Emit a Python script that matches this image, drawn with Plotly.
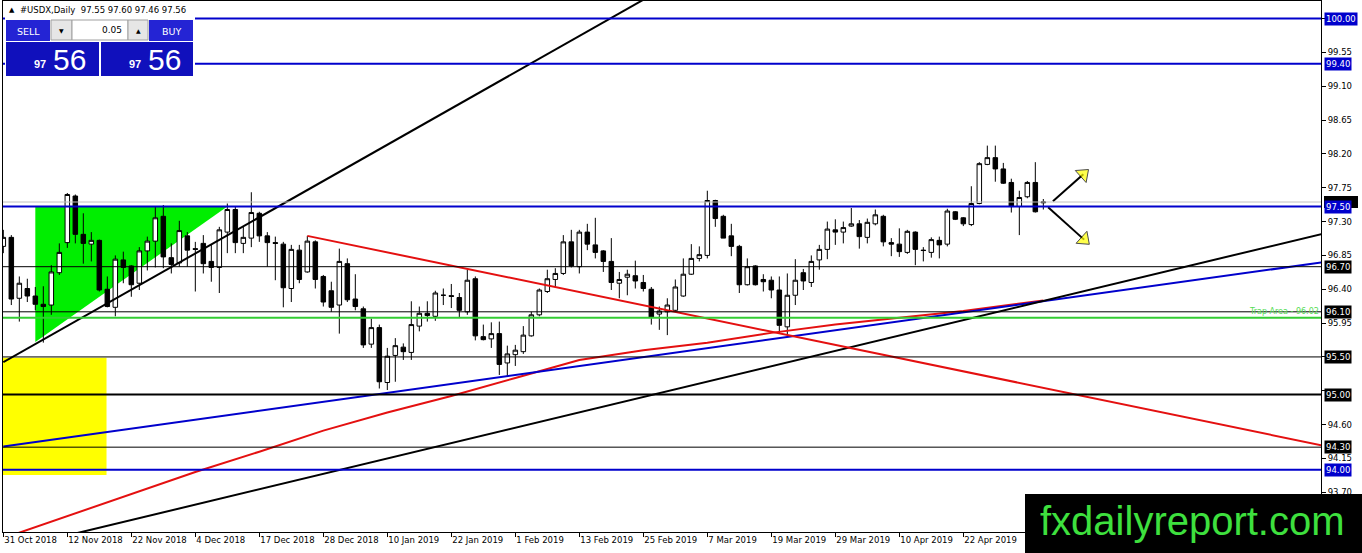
import plotly.graph_objects as go

# daily USDX candles, bar 0 = 31 Oct 2018 (one bar per trading day)
opens = [96.97, 97.09, 96.28, 96.41, 96.31, 96.20, 96.19, 96.62, 97.02, 97.64,
         97.13, 97.00, 97.05, 96.40, 96.16, 96.79, 96.71, 96.48, 96.91, 97.04,
         97.37, 96.82, 96.75, 97.11, 96.94, 97.01, 96.77, 96.69, 97.16, 97.46,
         97.01, 97.08, 97.41, 97.11, 97.02, 97.00, 96.41, 96.92, 96.63, 97.03,
         96.57, 96.38, 96.19, 96.74, 96.27, 96.14, 95.67, 95.89, 95.16, 95.52,
         95.63, 95.56, 95.91, 96.08, 96.04, 96.32, 96.315, 96.29, 96.10, 96.54,
         95.77, 95.74, 95.81, 95.42, 95.53, 95.57, 95.78, 96.06, 96.37, 96.53,
         96.61, 97.03, 96.70, 97.16, 96.99, 96.91, 96.77, 96.48, 96.56, 96.58,
         96.49, 96.40, 96.07, 96.10, 96.12, 96.31, 96.60, 96.81, 96.85, 97.58,
         97.37, 97.11, 96.97, 96.46, 96.71, 96.53, 96.52, 96.39, 95.90, 96.32,
         96.62, 96.49, 96.79, 96.93, 97.19, 97.16, 97.24, 97.27, 97.09, 97.27,
         97.37, 97.02, 97.00, 96.89, 97.16, 96.92, 96.89, 97.05, 97.00, 97.43,
         97.35, 97.26, 97.54, 98.06, 98.15, 98.00, 97.82, 97.50, 97.63, 97.82,
         97.55]
highs = [97.19, 97.12, 96.57, 96.54, 96.43, 96.44, 96.72, 97.01, 97.68, 97.66,
         97.41, 97.16, 97.06, 96.57, 96.85, 96.90, 96.72, 96.96, 97.10, 97.50,
         97.52, 97.01, 97.31, 97.16, 97.03, 97.12, 96.99, 97.23, 97.54, 97.50,
         97.23, 97.69, 97.43, 97.16, 97.10, 97.03, 96.99, 96.99, 97.11, 97.05,
         96.59, 96.50, 96.94, 96.81, 96.60, 96.17, 96.01, 95.93, 95.62, 95.75,
         95.68, 96.24, 96.17, 96.24, 96.38, 96.41, 96.47, 96.35, 96.66, 96.57,
         95.93, 95.96, 95.97, 95.65, 95.66, 95.91, 96.10, 96.41, 96.66, 96.68,
         97.12, 97.19, 97.19, 97.27, 97.35, 96.92, 97.08, 96.63, 96.66, 96.78,
         96.59, 96.43, 96.17, 96.28, 96.53, 96.81, 97.00, 96.97, 97.71, 97.59,
         97.39, 97.27, 96.99, 96.81, 96.72, 96.60, 96.57, 96.57, 96.61, 96.80,
         96.67, 96.85, 96.99, 97.30, 97.33, 97.30, 97.48, 97.32, 97.34, 97.46,
         97.39, 97.08, 97.21, 97.19, 97.17, 96.96, 97.09, 97.10, 97.47, 97.44,
         97.36, 97.77, 98.09, 98.31, 98.31, 98.08, 97.87, 97.71, 97.84, 98.09,
         97.60]
lows = [96.88, 96.19, 95.97, 96.23, 96.12, 95.69, 96.06, 96.59, 96.95, 97.01,
        96.74, 96.77, 96.37, 96.16, 96.04, 96.48, 96.30, 96.39, 96.65, 96.69,
        96.68, 96.61, 96.70, 96.70, 96.37, 96.61, 96.50, 96.35, 96.88, 96.88,
        96.88, 96.96, 97.03, 96.70, 96.52, 96.16, 96.23, 96.48, 96.62, 96.41,
        96.17, 96.10, 95.81, 96.23, 96.12, 95.62, 95.62, 95.08, 95.06, 95.17,
        95.46, 95.46, 95.84, 95.97, 95.98, 96.19, 96.15, 96.03, 96.06, 95.72,
        95.72, 95.62, 95.26, 95.24, 95.38, 95.54, 95.77, 96.04, 96.35, 96.43,
        96.59, 96.69, 96.61, 96.92, 96.81, 96.63, 96.39, 96.28, 96.32, 96.41,
        96.37, 95.93, 95.86, 95.79, 96.10, 96.30, 96.59, 96.77, 96.81, 97.23,
        97.08, 96.84, 96.35, 96.45, 96.45, 96.37, 96.28, 95.81, 95.80, 96.19,
        96.39, 96.43, 96.66, 96.80, 96.99, 97.01, 97.23, 96.94, 97.01, 97.25,
        96.97, 96.84, 96.83, 96.87, 96.72, 96.77, 96.82, 96.81, 96.97, 97.32,
        97.24, 97.24, 97.53, 98.05, 97.83, 97.80, 97.42, 97.12, 97.61, 97.42,
        97.46]
closes = [97.09, 96.27, 96.48, 96.31, 96.20, 96.17, 96.63, 96.89, 97.66, 97.13,
          97.01, 97.05, 96.39, 96.17, 96.80, 96.69, 96.46, 96.91, 97.04, 97.35,
          96.83, 96.73, 97.18, 96.92, 96.93, 96.74, 96.69, 97.19, 97.46, 97.02,
          97.09, 97.42, 97.11, 97.02, 97.01, 96.42, 96.93, 96.53, 97.04, 96.53,
          96.23, 96.16, 96.77, 96.26, 96.17, 95.66, 95.89, 95.17, 95.51, 95.65,
          95.57, 95.93, 96.08, 96.05, 96.35, 96.32, 96.305, 96.12, 96.52, 95.78,
          95.73, 95.81, 95.40, 95.54, 95.59, 95.79, 96.06, 96.39, 96.54, 96.61,
          97.03, 96.71, 97.16, 97.00, 96.89, 96.77, 96.49, 96.53, 96.60, 96.51,
          96.41, 96.03, 96.11, 96.19, 96.43, 96.60, 96.81, 96.86, 97.58, 97.34,
          97.08, 96.97, 96.46, 96.70, 96.46, 96.50, 96.39, 95.92, 96.32, 96.52,
          96.51, 96.77, 96.93, 97.20, 97.16, 97.22, 97.27, 97.10, 97.29, 97.39,
          97.03, 97.00, 96.90, 97.17, 96.93, 96.915, 97.06, 96.99, 97.44, 97.33,
          97.27, 97.54, 98.07, 98.15, 98.00, 97.81, 97.50, 97.62, 97.82, 97.43,
          97.56]
bars = list(range(len(opens)))

date_labels = ["31 Oct 2018", "12 Nov 2018", "22 Nov 2018", "4 Dec 2018",
               "17 Dec 2018", "28 Dec 2018", "10 Jan 2019", "22 Jan 2019",
               "1 Feb 2019", "13 Feb 2019", "25 Feb 2019", "7 Mar 2019",
               "19 Mar 2019", "29 Mar 2019", "10 Apr 2019", "22 Apr 2019"]
date_bars = [0, 8, 16, 24, 32, 40, 48, 56, 64, 72, 80, 88, 96, 104, 112, 120]

# scale ticks; the ones sitting under a price tag carry no text
price_ticks = [93.70, 94.15, 94.60, 95.05, 95.50, 95.95, 96.40, 96.85, 97.30,
               97.75, 98.20, 98.65, 99.10, 99.55, 100.00]
price_tick_text = ["93.70", "94.15", "94.60", "", "", "95.95", "96.40", "96.85",
                   "97.30", "97.75", "98.20", "98.65", "99.10", "99.55", ""]

# moving average read every 8 bars
ma_bars = [0, 8, 16, 24, 32, 40, 48, 56, 64, 72, 80, 88, 96, 104, 112, 120, 130]
ma_vals = [93.09, 93.38, 93.67, 93.97, 94.24, 94.52, 94.76, 94.98, 95.22, 95.46,
           95.59, 95.69, 95.82, 95.93, 96.02, 96.11, 96.25]

# trend lines (two anchor points each: bars, prices)
steep_bars, steep_prices = [0, 82], [95.43, 100.37]
lowtl_bars, lowtl_prices = [5, 165], [93.05, 97.14]
bluetl_bars, bluetl_prices = [0, 165], [94.31, 96.76]
redtl_bars, redtl_prices = [38, 165], [97.11, 94.32]

# zones
triangle_bars, triangle_prices = [4, 28, 4], [97.50, 97.50, 95.70]
yellow_bars, yellow_prices = [-0.5, 12.9], [93.93, 95.49]

# scenario arrows: start, head
arrow_up_bars, arrow_up_prices = [131.2, 135.0], [97.57, 97.93]
arrow_dn_bars, arrow_dn_prices = [130.6, 135.1], [97.49, 97.06]

# horizontal levels
blue_levels = [100.00, 99.40, 97.50, 94.00]
black_levels = [96.70, 96.10, 95.50, 94.30]
thick_level = 95.00
trap_level = 96.02
bid_price = 97.56

BLUE = "#0000cc"
RED = "#e41010"
GREEN = "#33cc33"
FONT = "DejaVu Sans"

W, H = 1362, 553
ML, MR, MT, MB = 3, 41, 1, 21
PW, PH = W - ML - MR, H - MT - MB
Y_RANGE = [93.172, 100.233]
PX_PER_PRICE = PH / (Y_RANGE[1] - Y_RANGE[0])


def px(x):  # pixel column -> paper
    return (x - ML) / PW


def py(y):  # pixel row -> paper
    return (H - MB - y) / PH


fig = go.Figure()

fig.add_trace(go.Candlestick(
    x=bars, open=opens, high=highs, low=lows, close=closes,
    increasing=dict(line=dict(color="black", width=1), fillcolor="white"),
    decreasing=dict(line=dict(color="black", width=1), fillcolor="black"),
    whiskerwidth=0, hoverinfo="skip", showlegend=False))

fig.add_trace(go.Scatter(x=ma_bars, y=ma_vals, mode="lines", hoverinfo="skip",
                         line=dict(color=RED, width=2), showlegend=False))
for xs, ys, col in [(bluetl_bars, bluetl_prices, BLUE),
                    (steep_bars, steep_prices, "black"),
                    (lowtl_bars, lowtl_prices, "black"),
                    (redtl_bars, redtl_prices, RED)]:
    fig.add_trace(go.Scatter(x=xs, y=ys, mode="lines", hoverinfo="skip",
                             line=dict(color=col, width=2), showlegend=False))

for xs, ys, ang in [(arrow_up_bars, arrow_up_prices, 48),
                    (arrow_dn_bars, arrow_dn_prices, 132)]:
    fig.add_trace(go.Scatter(x=xs, y=ys, mode="lines+markers", hoverinfo="skip",
                             line=dict(color="black", width=2),
                             marker=dict(symbol="triangle-up", size=[0, 14],
                                         angle=ang, color="#ffff00",
                                         line=dict(color="black", width=1)),
                             showlegend=False))

shapes = []
# background zones sit under the candles
shapes.append(dict(type="rect", xref="x", yref="y", layer="below",
                   x0=yellow_bars[0], x1=yellow_bars[1],
                   y0=yellow_prices[0], y1=yellow_prices[1],
                   fillcolor="#ffff00", line=dict(width=0)))
tri_path = "M " + " L ".join(f"{b},{p}" for b, p in zip(triangle_bars, triangle_prices)) + " Z"
shapes.append(dict(type="path", xref="x", yref="y", layer="below", path=tri_path,
                   fillcolor="#00ee00", line=dict(width=0)))

shapes.append(dict(type="line", xref="paper", yref="y", x0=0, x1=1,
                   y0=bid_price, y1=bid_price, line=dict(color="#c0c0c0", width=1)))
for lv in black_levels:
    shapes.append(dict(type="line", xref="paper", yref="y", x0=0, x1=1,
                       y0=lv, y1=lv, line=dict(color="black", width=1)))
shapes.append(dict(type="line", xref="paper", yref="y", x0=0, x1=1,
                   y0=thick_level, y1=thick_level, line=dict(color="black", width=2)))
shapes.append(dict(type="line", xref="paper", yref="y", x0=0, x1=1,
                   y0=trap_level, y1=trap_level, line=dict(color=GREEN, width=2)))
for lv in blue_levels:
    shapes.append(dict(type="line", xref="paper", yref="y", x0=0, x1=1,
                       y0=lv, y1=lv, line=dict(color=BLUE, width=2)))

# bid tag, almost hidden behind the 97.50 tag
half = 6 / PX_PER_PRICE
shapes.append(dict(type="rect", xref="paper", yref="y", layer="above",
                   x0=1 + 3 / PW, x1=1 + 37 / PW, y0=bid_price - half,
                   y1=bid_price + half, fillcolor="black", line=dict(width=0)))


def box(x0, y0, x1, y1, fill, line=None):
    shapes.append(dict(type="rect", xref="paper", yref="paper", layer="above",
                       x0=px(x0), x1=px(x1), y0=py(y1), y1=py(y0),
                       fillcolor=fill,
                       line=dict(color=line or fill, width=1 if line else 0)))


# one-click trading panel
box(5, 16, 195, 77, "white")
box(6, 20, 50, 41, "#2424d4")
box(51, 20, 72, 40, "#e6e6e6", "#a0a0a0")
box(72, 20, 128, 40, "white", "#a0a0a0")
box(128, 20, 148, 40, "#e6e6e6", "#a0a0a0")
box(149, 20, 193, 41, "#2424d4")
box(6, 42, 99, 76, "#1010bc")
box(101, 42, 193, 76, "#1010bc")
# watermark
box(1025, 494, 1362, 553, "black")
fig.update_layout(shapes=shapes)

ann = []


def text(x, y, s, size, color="white", anchor="center", family=FONT):
    ann.append(dict(xref="paper", yref="paper", x=px(x), y=py(y), text=s,
                    showarrow=False, xanchor=anchor, yanchor="middle",
                    font=dict(family=family, size=size, color=color)))


text(7, 10, "▲", 7, "black", "left")
text(18, 10, "#USDX,Daily  97.55 97.60 97.46 97.56", 8.5, "black", "left")
text(28, 31, "SELL", 9.5)
text(171, 31, "BUY", 9.5)
text(61.5, 30, "▼", 6, "black")
text(138, 30, "▲", 6, "black")
text(124, 30, "0.05", 9, "black", "right")
text(48, 64, "<b>97</b>", 11, anchor="right", family="Liberation Sans")
text(51, 59, "56", 30, anchor="left", family="Liberation Sans")
text(143, 64, "<b>97</b>", 11, anchor="right", family="Liberation Sans")
text(146, 59, "56", 30, anchor="left", family="Liberation Sans")
text(1192, 521, "fxdailyreport.com", 40, "#3ee03e", family="Liberation Sans")

ann.append(dict(xref="paper", yref="y", x=1, y=trap_level, text="Trap Area - 96.02",
                showarrow=False, xanchor="right", yanchor="bottom",
                font=dict(family=FONT, size=8, color="#55dd55")))

# price tags on the right scale
tags = [(lv, "black") for lv in black_levels] + [(thick_level, "black")] + \
       [(lv, BLUE) for lv in blue_levels]
for lv, col in tags:
    ann.append(dict(xref="paper", yref="y", x=1, y=lv, text=f"{lv:.2f}",
                    showarrow=False, xanchor="left", yanchor="middle", xshift=3,
                    font=dict(family=FONT, size=8.5, color="white"),
                    bgcolor=col, borderpad=1))

fig.update_layout(
    annotations=ann,
    width=W, height=H,
    margin=dict(l=ML, r=MR, t=MT, b=MB, autoexpand=False),
    paper_bgcolor="white", plot_bgcolor="white",
    boxgap=0.25, boxgroupgap=0.25,
    showlegend=False,
    xaxis=dict(range=[-0.04, 164.71], showgrid=False, zeroline=False,
               rangeslider=dict(visible=False),
               tickvals=date_bars, ticktext=date_labels,
               ticks="outside", ticklen=4, tickcolor="black",
               ticklabelposition="outside right",
               showline=True, linecolor="black", linewidth=1, mirror=True,
               tickfont=dict(family=FONT, size=8.5, color="black")),
    yaxis=dict(range=Y_RANGE, side="right", showgrid=False,
               zeroline=False, tickvals=price_ticks, ticktext=price_tick_text,
               ticks="outside", ticklen=4, tickcolor="black",
               showline=True, linecolor="black", linewidth=1, mirror=True,
               tickfont=dict(family=FONT, size=8.5, color="black")),
)

# page body margin off so the figure sits at the window's top-left corner
fig.write_html("out.html", config={"displayModeBar": False},
               post_script="document.body.style.margin='0px';"
                           "document.body.style.overflow='hidden';")
